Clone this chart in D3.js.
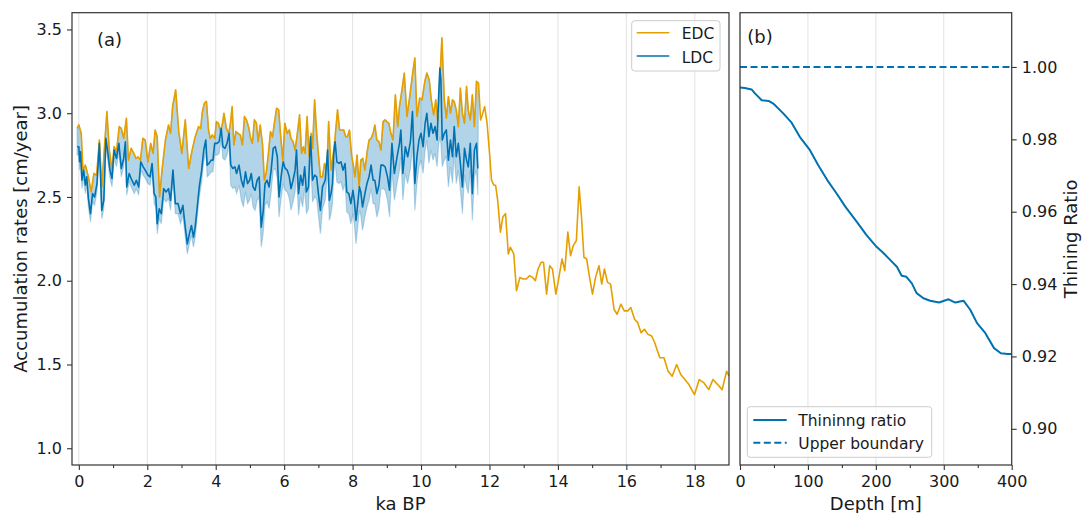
<!DOCTYPE html>
<html><head><meta charset="utf-8">
<script src="https://cdn.jsdelivr.net/npm/d3@7"></script>
<style>
body{margin:0;background:#fff}
text{font-family:"DejaVu Sans",sans-serif;fill:#1a1a1a}
</style>
</head><body>
<svg id="c" width="1082" height="513"></svg>
<script>
// ---------------- DATA ----------------
// EDC accumulation rate [ka BP, cm/year]
const edcSeries = [
[-0.05,2.91],[0.00,2.93],[0.07,2.88],[0.12,2.66],[0.19,2.69],[0.23,2.66],[0.28,2.62],[0.36,2.53],[0.44,2.64],[0.52,2.63],
[0.60,2.84],[0.67,2.56],[0.75,2.80],[0.82,3.01],[0.89,2.78],[0.97,2.66],[1.03,2.80],[1.10,2.77],[1.18,2.92],[1.24,2.91],
[1.31,2.85],[1.39,2.97],[1.45,2.72],[1.53,2.79],[1.61,2.76],[1.67,2.73],[1.73,2.74],[1.80,2.72],[1.87,2.85],[1.94,2.84],
[2.02,2.71],[2.10,2.82],[2.17,2.76],[2.23,2.90],[2.29,2.86],[2.36,2.50],[2.43,2.66],[2.53,2.84],[2.62,2.93],[2.68,2.88],
[2.74,3.04],[2.83,3.14],[2.92,2.89],[3.01,2.76],[3.11,2.96],[3.21,2.67],[3.31,2.78],[3.40,2.86],[3.50,2.92],[3.56,2.91],
[3.61,3.01],[3.67,3.06],[3.73,3.07],[3.79,2.90],[3.84,2.85],[3.90,2.87],[3.97,2.85],[4.02,2.95],[4.08,2.94],[4.14,2.89],
[4.20,2.94],[4.24,3.00],[4.31,2.91],[4.38,2.88],[4.43,2.94],[4.48,3.04],[4.53,2.81],[4.59,2.89],[4.65,2.88],[4.72,2.87],
[4.78,2.81],[4.84,2.98],[4.90,2.96],[4.97,2.91],[5.02,2.85],[5.07,2.82],[5.13,2.96],[5.19,2.94],[5.24,2.83],[5.30,2.93],
[5.37,2.81],[5.42,2.60],[5.48,2.65],[5.54,2.76],[5.60,2.89],[5.66,2.86],[5.72,2.95],[5.78,3.03],[5.84,3.02],[5.90,2.86],
[5.96,2.72],[6.02,2.94],[6.09,2.88],[6.15,2.90],[6.20,2.85],[6.26,2.83],[6.32,2.78],[6.38,2.87],[6.45,2.99],[6.51,2.76],
[6.56,2.80],[6.61,2.76],[6.67,2.98],[6.73,2.74],[6.79,2.88],[6.83,2.79],[6.89,3.08],[6.95,2.88],[7.00,2.76],[7.06,2.62],
[7.12,2.62],[7.18,2.70],[7.25,2.66],[7.30,2.95],[7.37,2.66],[7.42,2.73],[7.48,2.84],[7.56,3.02],[7.62,2.90],[7.68,2.90],
[7.74,2.90],[7.80,2.86],[7.85,2.86],[7.91,2.90],[7.97,2.75],[8.03,2.68],[8.07,2.62],[8.13,2.75],[8.19,2.56],[8.24,2.72],
[8.30,2.73],[8.36,2.66],[8.42,2.76],[8.48,2.84],[8.54,2.85],[8.60,2.88],[8.65,2.93],[8.71,2.84],[8.77,2.83],[8.83,2.78],
[8.89,2.95],[8.95,2.96],[9.00,2.95],[9.06,2.94],[9.12,2.88],[9.18,2.84],[9.25,3.11],[9.32,2.92],[9.37,3.04],[9.45,3.15],
[9.51,3.24],[9.59,2.98],[9.67,3.10],[9.75,3.23],[9.82,3.33],[9.88,2.98],[9.96,3.09],[10.03,3.08],[10.11,3.19],[10.17,3.24],
[10.24,3.20],[10.30,3.08],[10.37,2.99],[10.43,3.08],[10.49,2.95],[10.55,3.20],[10.61,3.45],[10.68,3.08],[10.74,2.97],[10.80,3.10],
[10.86,3.00],[10.92,3.08],[10.97,3.07],[11.03,3.02],[11.09,2.92],[11.15,3.15],[11.21,3.00],[11.27,2.94],[11.33,3.16],[11.38,3.02],
[11.44,2.96],[11.50,3.11],[11.56,2.92],[11.62,3.19],[11.68,3.18],[11.74,2.96],[11.79,2.99],[11.86,3.04],[11.93,2.94],[12.01,2.74],
[12.06,2.60],[12.13,2.57],[12.18,2.57],[12.24,2.48],[12.32,2.29],[12.39,2.38],[12.47,2.40],[12.55,2.16],[12.61,2.20],[12.71,2.16],
[12.79,1.94],[12.89,2.02],[12.98,2.01],[13.07,2.01],[13.17,2.03],[13.26,2.02],[13.34,2.00],[13.42,2.07],[13.51,2.11],[13.58,2.11],
[13.67,1.92],[13.76,2.09],[13.84,2.07],[13.94,1.92],[14.03,2.02],[14.12,2.13],[14.20,2.06],[14.29,2.29],[14.37,2.15],[14.45,2.21],
[14.54,2.24],[14.62,2.56],[14.69,2.38],[14.76,2.14],[14.84,2.13],[14.91,2.04],[15.01,1.92],[15.10,2.02],[15.20,2.09],[15.28,1.98],
[15.36,2.07],[15.45,1.99],[15.54,1.98],[15.64,1.83],[15.73,1.80],[15.84,1.86],[15.94,1.82],[16.04,1.82],[16.13,1.84],[16.24,1.77],
[16.33,1.75],[16.43,1.69],[16.53,1.71],[16.63,1.68],[16.74,1.67],[16.83,1.63],[16.91,1.58],[16.98,1.54],[17.10,1.54],[17.22,1.46],
[17.34,1.43],[17.47,1.50],[17.59,1.44],[17.71,1.41],[17.83,1.38],[17.99,1.32],[18.13,1.41],[18.27,1.39],[18.41,1.35],[18.53,1.41],
[18.67,1.38],[18.80,1.35],[18.93,1.46],[19.00,1.43]
];

// LDC accumulation rate [ka BP, LDC, lower bound of the uncertainty band]
const ldcSeries = [
[-0.05,2.80,2.75],[0.00,2.80,2.75],[0.02,2.71,2.66],[0.05,2.77,2.72],[0.09,2.60,2.55],[0.14,2.66,2.61],[0.19,2.57,2.52],[0.23,2.62,2.57],
[0.28,2.49,2.44],[0.34,2.40,2.35],[0.40,2.52,2.47],[0.46,2.50,2.45],[0.53,2.58,2.53],[0.60,2.82,2.77],[0.67,2.42,2.37],[0.73,2.48,2.43],
[0.79,2.85,2.80],[0.85,2.76,2.71],[0.91,2.66,2.61],[0.97,2.61,2.56],[1.03,2.78,2.73],[1.10,2.73,2.68],[1.17,2.82,2.77],[1.24,2.67,2.62],
[1.31,2.73,2.68],[1.36,2.83,2.78],[1.40,2.56,2.51],[1.47,2.64,2.59],[1.55,2.60,2.55],[1.62,2.57,2.52],[1.68,2.60,2.55],[1.75,2.56,2.51],
[1.81,2.71,2.66],[1.88,2.68,2.63],[1.94,2.66,2.61],[2.02,2.63,2.58],[2.08,2.62,2.57],[2.14,2.70,2.65],
[2.20,2.52,2.46],[2.25,2.50,2.44],[2.29,2.34,2.28],[2.35,2.43,2.37],[2.41,2.40,2.34],[2.48,2.55,2.49],[2.55,2.53,2.47],[2.62,2.55,2.49],
[2.68,2.48,2.42],[2.75,2.66,2.60],[2.82,2.46,2.40],[2.90,2.46,2.40],[2.97,2.40,2.34],[3.04,2.45,2.39],[3.11,2.32,2.26],[3.17,2.22,2.16],
[3.23,2.28,2.22],[3.29,2.33,2.27],[3.35,2.26,2.20],[3.40,2.32,2.26],[3.46,2.44,2.38],[3.52,2.56,2.50],
[3.59,2.66,2.59],[3.65,2.78,2.71],[3.71,2.84,2.77],[3.75,2.69,2.62],[3.80,2.70,2.63],[3.87,2.72,2.65],[3.92,2.72,2.65],[3.97,2.82,2.75],
[4.04,2.82,2.75],[4.10,2.83,2.76],[4.16,2.91,2.84],[4.21,2.80,2.73],[4.27,2.79,2.72],[4.33,2.82,2.75],[4.39,2.88,2.81],
[4.44,2.69,2.57],[4.50,2.67,2.55],[4.56,2.68,2.56],[4.61,2.64,2.52],[4.68,2.69,2.57],[4.75,2.60,2.48],[4.81,2.56,2.44],[4.87,2.65,2.53],
[4.93,2.58,2.46],[4.99,2.60,2.48],[5.04,2.64,2.52],[5.09,2.56,2.44],[5.15,2.54,2.42],[5.21,2.60,2.48],[5.27,2.62,2.50],
[5.33,2.32,2.20],[5.39,2.42,2.29],[5.44,2.58,2.45],[5.50,2.60,2.47],[5.56,2.56,2.43],[5.62,2.66,2.53],[5.68,2.79,2.66],[5.74,2.80,2.67],
[5.80,2.74,2.61],[5.85,2.50,2.38],[5.91,2.62,2.49],[5.97,2.71,2.58],[6.03,2.67,2.54],[6.09,2.66,2.53],[6.15,2.62,2.49],[6.20,2.55,2.42],
[6.26,2.60,2.47],[6.32,2.66,2.53],[6.36,2.78,2.65],[6.42,2.52,2.39],[6.48,2.63,2.50],[6.54,2.57,2.44],[6.60,2.68,2.55],[6.65,2.53,2.40],
[6.71,2.56,2.43],[6.77,2.86,2.72],[6.83,2.60,2.47],[6.89,2.63,2.50],[6.95,2.62,2.49],[7.00,2.52,2.39],[7.06,2.42,2.28],[7.12,2.56,2.43],
[7.20,2.60,2.48],[7.27,2.78,2.66],[7.32,2.48,2.36],[7.37,2.52,2.40],[7.41,2.58,2.46],[7.45,2.76,2.64],[7.49,2.83,2.71],[7.54,2.71,2.59],
[7.60,2.70,2.58],[7.66,2.71,2.59],[7.72,2.66,2.54],[7.78,2.70,2.58],[7.83,2.53,2.41],[7.89,2.52,2.40],[7.95,2.46,2.34],
[8.01,2.54,2.40],[8.05,2.48,2.34],[8.10,2.36,2.22],[8.15,2.46,2.32],[8.20,2.56,2.42],[8.24,2.53,2.39],[8.29,2.44,2.30],[8.36,2.52,2.38],
[8.42,2.58,2.44],[8.48,2.62,2.48],[8.54,2.69,2.55],[8.60,2.60,2.46],[8.65,2.60,2.46],[8.71,2.52,2.38],[8.77,2.57,2.43],[8.83,2.69,2.55],
[8.89,2.69,2.55],[8.95,2.68,2.54],[9.02,2.62,2.48],
[9.08,2.54,2.38],[9.15,2.82,2.66],[9.22,2.64,2.48],[9.30,2.74,2.58],[9.37,2.82,2.66],[9.41,2.90,2.74],[9.47,2.64,2.48],[9.54,2.80,2.64],
[9.61,2.74,2.58],[9.69,2.83,2.67],[9.75,3.01,2.80],[9.78,2.82,2.66],[9.82,2.58,2.42],[9.88,2.74,2.58],[9.94,2.84,2.68],[10.00,2.88,2.72],
[10.06,2.80,2.64],[10.12,2.94,2.78],[10.17,3.00,2.84],[10.23,2.86,2.70],[10.29,2.94,2.78],[10.35,2.88,2.72],[10.41,2.92,2.76],[10.47,2.84,2.68],
[10.51,3.08,2.80],[10.55,3.27,2.86],[10.58,3.20,2.82],[10.62,2.84,2.68],[10.68,2.88,2.72],[10.74,2.90,2.74],[10.80,2.72,2.56],[10.86,2.84,2.68],
[10.92,2.74,2.58],[10.97,2.92,2.76],[11.03,2.74,2.58],[11.09,2.82,2.66],[11.15,2.70,2.54],[11.21,2.56,2.40],[11.27,2.79,2.63],[11.33,2.72,2.56],
[11.38,2.68,2.52],[11.44,2.82,2.66],[11.50,2.52,2.36],[11.56,2.78,2.62],[11.62,2.82,2.66],[11.66,2.67,2.51]
];

// Panel (b): thinning ratio vs depth
const depthM = [0,7,17,22,32,42,49,64,76,88,103,115,130,142,155,172,186,201,210,221,231,238,245,253,260,270,280,293,307,317,329,339,349,361,374,384,394,400];
const thinRatio = [0.9943,0.9942,0.9938,0.9927,0.9908,0.9906,0.9899,0.9871,0.9846,0.9807,0.9770,0.9729,0.9683,0.9651,0.9614,0.9572,0.9536,0.9503,0.9488,0.9467,0.9448,0.9423,0.9420,0.9402,0.9375,0.9361,0.9354,0.9349,0.9358,0.9349,0.9354,0.9329,0.9292,0.9265,0.9223,0.9209,0.9207,0.9207];
const upperBoundary = 1.00;

// Ticks
const xTicksA = [0,2,4,6,8,10,12,14,16,18];
const xMinorA = [1,3,5,7,9,11,13,15,17];
const yTicksA = [1.0,1.5,2.0,2.5,3.0,3.5];
const xTicksB = [0,100,200,300,400];
const xMinorB = [50,150,250,350];
const yTicksB = [0.90,0.92,0.94,0.96,0.98,1.00];

(function(){
// ---------------- STYLE ----------------
const C_EDC = "#E69F00", C_LDC = "#0072B2";
const SPINE = "#333", GRID = "#e3e3e3";
const TICK_FS = 16, LAB_FS = 18, LEG_FS = 15.5;

const svg = d3.select("#c");
const yTop = 12.7, yBot = 465;

// ---------------- PANEL A ----------------
const A = {l:72, r:729};
const xA = d3.scaleLinear().domain([-0.2,19.0]).range([A.l,A.r]);
const yA = d3.scaleLinear().domain([0.9,3.6]).range([yBot,yTop]);

svg.append("clipPath").attr("id","clipA").append("rect")
  .attr("x",A.l).attr("y",yTop).attr("width",A.r-A.l).attr("height",yBot-yTop);

const gA = svg.append("g");
gA.selectAll(".gridA").data(xTicksA).enter().append("line")
  .attr("x1",d=>xA(d)).attr("x2",d=>xA(d)).attr("y1",yTop).attr("y2",yBot)
  .attr("stroke",GRID).attr("stroke-width",1);

const plotA = gA.append("g").attr("clip-path","url(#clipA)");
const lastLdcAge = ldcSeries[ldcSeries.length-1][0];
const bandPts = edcSeries.filter(d=>d[0] <= lastLdcAge + 0.03).map(d=>[xA(d[0]),yA(d[1])])
  .concat(ldcSeries.slice().reverse().map(d=>[xA(d[0]),yA(d[2])]));
plotA.append("path").attr("d", d3.line()(bandPts)+"Z")
  .attr("fill",C_LDC).attr("fill-opacity",0.3)
  .attr("stroke",C_LDC).attr("stroke-opacity",0.25).attr("stroke-width",1.2);
plotA.append("path").datum(edcSeries)
  .attr("d", d3.line().x(d=>xA(d[0])).y(d=>yA(d[1])))
  .attr("fill","none").attr("stroke",C_EDC).attr("stroke-width",1.6).attr("stroke-linejoin","round");
plotA.append("path").datum(ldcSeries)
  .attr("d", d3.line().x(d=>xA(d[0])).y(d=>yA(d[1])))
  .attr("fill","none").attr("stroke",C_LDC).attr("stroke-width",1.6).attr("stroke-linejoin","round");

// axes A
svg.append("g").attr("transform",`translate(0,${yBot})`)
  .call(d3.axisBottom(xA).tickValues(xTicksA).tickFormat(d3.format("d")).tickSize(5).tickPadding(6));
svg.append("g").attr("transform",`translate(0,${yBot})`)
  .call(d3.axisBottom(xA).tickValues(xMinorA).tickFormat("").tickSize(3));
svg.append("g").attr("transform",`translate(${A.l},0)`)
  .call(d3.axisLeft(yA).tickValues(yTicksA).tickFormat(d3.format(".1f")).tickSize(5).tickPadding(5));

svg.append("rect").attr("x",A.l).attr("y",yTop).attr("width",A.r-A.l).attr("height",yBot-yTop)
  .attr("fill","none").attr("stroke",SPINE).attr("stroke-width",1.2);

svg.append("text").attr("x",97).attr("y",46).attr("font-size",LAB_FS).text("(a)");
svg.append("text").attr("x",(A.l+A.r)/2).attr("y",509.5).attr("text-anchor","middle")
  .attr("font-size",LAB_FS).text("ka BP");
svg.append("text").attr("transform",`translate(27,${(yTop+yBot)/2}) rotate(-90)`)
  .attr("text-anchor","middle").attr("font-size",LAB_FS).text("Accumulation rates [cm/year]");

// legend A
const legA = svg.append("g");
legA.append("rect").attr("x",631.7).attr("y",20.7).attr("width",88.3).attr("height",50.3).attr("rx",3)
  .attr("fill","#fff").attr("fill-opacity",0.8).attr("stroke","#cccccc").attr("stroke-width",1);
[["EDC",C_EDC,32.7,39.3],["LDC",C_LDC,56,62.7]].forEach(([t,c,ly,ty])=>{
  legA.append("line").attr("x1",636.7).attr("x2",669.3).attr("y1",ly).attr("y2",ly)
    .attr("stroke",c).attr("stroke-width",1.6);
  legA.append("text").attr("x",681.7).attr("y",ty).attr("font-size",LEG_FS).text(t);
});

// ---------------- PANEL B ----------------
const B = {l:740, r:1011.7};
const xB = d3.scaleLinear().domain([0,400]).range([B.l,B.r]);
const yB = d3.scaleLinear().domain([0.89,1.015]).range([yBot,yTop]);

svg.append("clipPath").attr("id","clipB").append("rect")
  .attr("x",B.l).attr("y",yTop).attr("width",B.r-B.l).attr("height",yBot-yTop);
const gB = svg.append("g");
gB.selectAll(".gridB").data(xTicksB).enter().append("line")
  .attr("x1",d=>xB(d)).attr("x2",d=>xB(d)).attr("y1",yTop).attr("y2",yBot)
  .attr("stroke",GRID).attr("stroke-width",1);
const plotB = gB.append("g").attr("clip-path","url(#clipB)");
plotB.append("path").datum(depthM.map((d,i)=>[d,thinRatio[i]]))
  .attr("d", d3.line().x(d=>xB(d[0])).y(d=>yB(d[1])))
  .attr("fill","none").attr("stroke",C_LDC).attr("stroke-width",2).attr("stroke-linejoin","round");
plotB.append("line").attr("x1",xB(0)).attr("x2",xB(400)).attr("y1",yB(upperBoundary)).attr("y2",yB(upperBoundary))
  .attr("stroke",C_LDC).attr("stroke-width",2).attr("stroke-dasharray","7,3.5");

svg.append("g").attr("transform",`translate(0,${yBot})`)
  .call(d3.axisBottom(xB).tickValues(xTicksB).tickFormat(d3.format("d")).tickSize(5).tickPadding(6));
svg.append("g").attr("transform",`translate(0,${yBot})`)
  .call(d3.axisBottom(xB).tickValues(xMinorB).tickFormat("").tickSize(3));
svg.append("g").attr("transform",`translate(${B.r},0)`)
  .call(d3.axisRight(yB).tickValues(yTicksB).tickFormat(d3.format(".2f")).tickSize(5).tickPadding(5));

svg.append("rect").attr("x",B.l).attr("y",yTop).attr("width",B.r-B.l).attr("height",yBot-yTop)
  .attr("fill","none").attr("stroke",SPINE).attr("stroke-width",1.2);

svg.append("text").attr("x",747.3).attr("y",43).attr("font-size",LAB_FS).text("(b)");
svg.append("text").attr("x",(B.l+B.r)/2).attr("y",509.5).attr("text-anchor","middle")
  .attr("font-size",LAB_FS).text("Depth [m]");
svg.append("text").attr("transform",`translate(1077,${(yTop+yBot)/2}) rotate(-90)`)
  .attr("text-anchor","middle").attr("font-size",LAB_FS).text("Thining Ratio");

// legend B
const legB = svg.append("g");
legB.append("rect").attr("x",747.3).attr("y",406.7).attr("width",184.4).attr("height",50.6).attr("rx",3)
  .attr("fill","#fff").attr("fill-opacity",0.8).attr("stroke","#cccccc").attr("stroke-width",1);
legB.append("line").attr("x1",753.3).attr("x2",786.7).attr("y1",420).attr("y2",420)
  .attr("stroke",C_LDC).attr("stroke-width",2);
legB.append("text").attr("x",798.3).attr("y",426).attr("font-size",LEG_FS).text("Thininng ratio");
legB.append("line").attr("x1",753.3).attr("x2",786.7).attr("y1",442.7).attr("y2",442.7)
  .attr("stroke",C_LDC).attr("stroke-width",2).attr("stroke-dasharray","7,3.5");
legB.append("text").attr("x",798.3).attr("y",448.5).attr("font-size",LEG_FS).text("Upper boundary");

// axis styling
svg.selectAll(".domain").remove();
svg.selectAll(".tick line").attr("stroke",SPINE).attr("stroke-width",1.1);
svg.selectAll(".tick text").attr("font-size",TICK_FS).attr("font-family","DejaVu Sans, sans-serif").attr("fill","#1a1a1a");
})();
</script>
</body></html>
